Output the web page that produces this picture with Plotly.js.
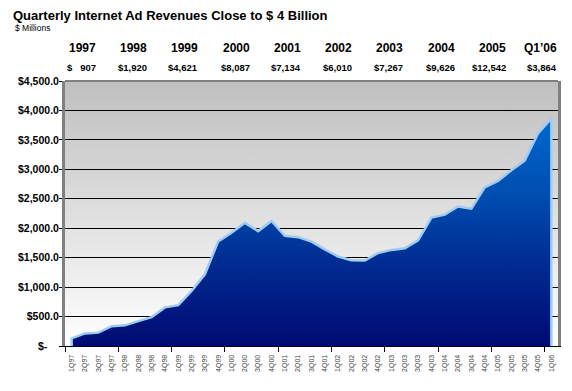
<!DOCTYPE html>
<html><head><meta charset="utf-8">
<script src="https://cdn.plot.ly/plotly-3.0.1.min.js"></script>
<style>html,body{margin:0;padding:0;background:#fff;} #chart{width:572px;height:391px;}</style>
</head><body><div id="chart"></div>
<script>
const quarters = ['1Q97','2Q97','3Q97','4Q97','1Q98','2Q98','3Q98','4Q98','1Q99','2Q99','3Q99','4Q99',
  '1Q00','2Q00','3Q00','4Q00','1Q01','2Q01','3Q01','4Q01','1Q02','2Q02','3Q02','4Q02',
  '1Q03','2Q03','3Q03','4Q03','1Q04','2Q04','3Q04','4Q04','1Q05','2Q05','3Q05','4Q05','1Q06'];
const revenue = [130,214,227,336, 351,423,491,656, 693,934,1217,1777,
  1922,2091,1951,2123, 1872,1848,1773,1641, 1520,1458,1451,1580,
  1632,1660,1793,2182, 2230,2369,2333,2694, 2802,2985,3147,3608, 3864];
const yearLabels = ['1997','1998','1999','2000','2001','2002','2003','2004','2005',"Q1\u201906"];
const yearTotals = [907,1920,4621,8087,7134,6010,7267,9626,12542,3864];
const yTickVals = [0,500,1000,1500,2000,2500,3000,3500,4000,4500];
const yTickText = ['$-\u00a0\u00a0\u00a0\u00a0','$500.0','$1,000.0','$1,500.0','$2,000.0','$2,500.0','$3,000.0','$3,500.0','$4,000.0','$4,500.0'];

const W = 572, H = 391, L = 65, R = 14, T = 81, B = 45;
const pw = W - L - R, ph = H - T - B;
const pxX = px => (px - L) / pw;
const pxY = py => (H - B - py) / ph;
const FONT = 'Liberation Sans, Arial, sans-serif';

const idx = quarters.map((q, i) => i);
const xs = [idx[0]].concat(idx, [idx[idx.length - 1]]);
const ys = [0].concat(revenue, [0]);

const trace = {
  x: xs, y: ys, type: 'scatter', mode: 'lines', fill: 'tozeroy',
  line: {color: '#99ccff', width: 2.5},
  fillgradient: {type: 'vertical', start: 0, stop: Math.max(...revenue),
    colorscale: [[0, '#000a72'], [0.35, '#002a90'], [0.65, '#004cae'], [1, '#0068d0']]},
  hoverinfo: 'skip', showlegend: false
};

function fmtTotal(n) {
  const s = n.toLocaleString('en-US');
  return '$' + (s.length < 4 ? '\u00a0\u00a0\u00a0' : '') + s;
}

const annotations = [];
yearLabels.forEach((lab, i) => {
  const right = 97.7 + 51.3 * i;
  annotations.push({text: lab, xref: 'paper', yref: 'paper', x: pxX(right), y: pxY(48),
    xanchor: 'right', yanchor: 'middle', showarrow: false,
    font: {family: FONT, size: 12, weight: 'bold', color: '#000'}});
  annotations.push({text: fmtTotal(yearTotals[i]), xref: 'paper', yref: 'paper', x: pxX(right), y: pxY(67.5),
    xanchor: 'right', yanchor: 'middle', showarrow: false,
    font: {family: FONT, size: 9.5, weight: 'bold', color: '#000'}});
});
annotations.push({text: '$ Millions', xref: 'paper', yref: 'paper', x: pxX(13), y: pxY(28.5),
  xanchor: 'left', yanchor: 'middle', showarrow: false,
  font: {family: FONT, size: 8.5, color: '#000'}});

const svg = "<svg xmlns='http://www.w3.org/2000/svg' width='100' height='100' preserveAspectRatio='none'>" +
  "<defs><linearGradient id='g' x1='0' y1='0' x2='0' y2='1'><stop offset='0' stop-color='#bfbfbf'/><stop offset='1' stop-color='#ffffff'/></linearGradient></defs>" +
  "<rect width='100' height='100' fill='url(#g)'/></svg>";
const bgSrc = 'data:image/svg+xml;charset=utf-8,' + encodeURIComponent(svg);

const layout = {
  width: W, height: H,
  margin: {l: L, r: R, t: T, b: B, pad: 0},
  paper_bgcolor: '#ffffff', plot_bgcolor: 'rgba(0,0,0,0)',
  title: {text: 'Quarterly Internet Ad Revenues Close to $ 4 Billion', xref: 'container', yref: 'container',
    x: 13 / W, xanchor: 'left', y: 1 - 15.5 / H, yanchor: 'middle',
    font: {family: FONT, size: 13, weight: 'bold', color: '#000'}},
  xaxis: {type: 'linear', range: [-0.5, 36.5], tickmode: 'array', tickvals: idx, ticktext: quarters,
    tickangle: -90, ticks: '', tickfont: {family: FONT, size: 7, color: '#444'}, ticklabelstandoff: 5,
    showline: true, linecolor: '#000', linewidth: 1, showgrid: false, zeroline: false,
    minor: {tickmode: 'linear', tick0: 3.5, dtick: 4, ticks: 'outside', ticklen: 5, tickwidth: 1, tickcolor: '#000', showgrid: false},
    fixedrange: true},
  yaxis: {range: [0, 4500], tickmode: 'array', tickvals: yTickVals, ticktext: yTickText,
    ticks: 'outside', ticklen: 3, tickwidth: 1, tickcolor: '#000', ticklabelstandoff: -2,
    tickfont: {family: FONT, size: 10.5, weight: 'bold', color: '#000'},
    showline: true, linecolor: '#808080', linewidth: 3, mirror: true,
    showgrid: true, gridcolor: '#000', gridwidth: 1, zeroline: false, fixedrange: true},
  images: [{source: bgSrc, xref: 'paper', yref: 'paper', x: 0, y: 1, sizex: 1, sizey: 1,
    xanchor: 'left', yanchor: 'top', sizing: 'stretch', layer: 'below'}],
  shapes: [{type: 'line', xref: 'paper', yref: 'paper', x0: 0, x1: 1, y0: 1, y1: 1,
    line: {color: '#808080', width: 2}}],
  annotations: annotations
};

Plotly.newPlot('chart', [trace], layout, {displayModeBar: false, staticPlot: true});
</script>
</body></html>
